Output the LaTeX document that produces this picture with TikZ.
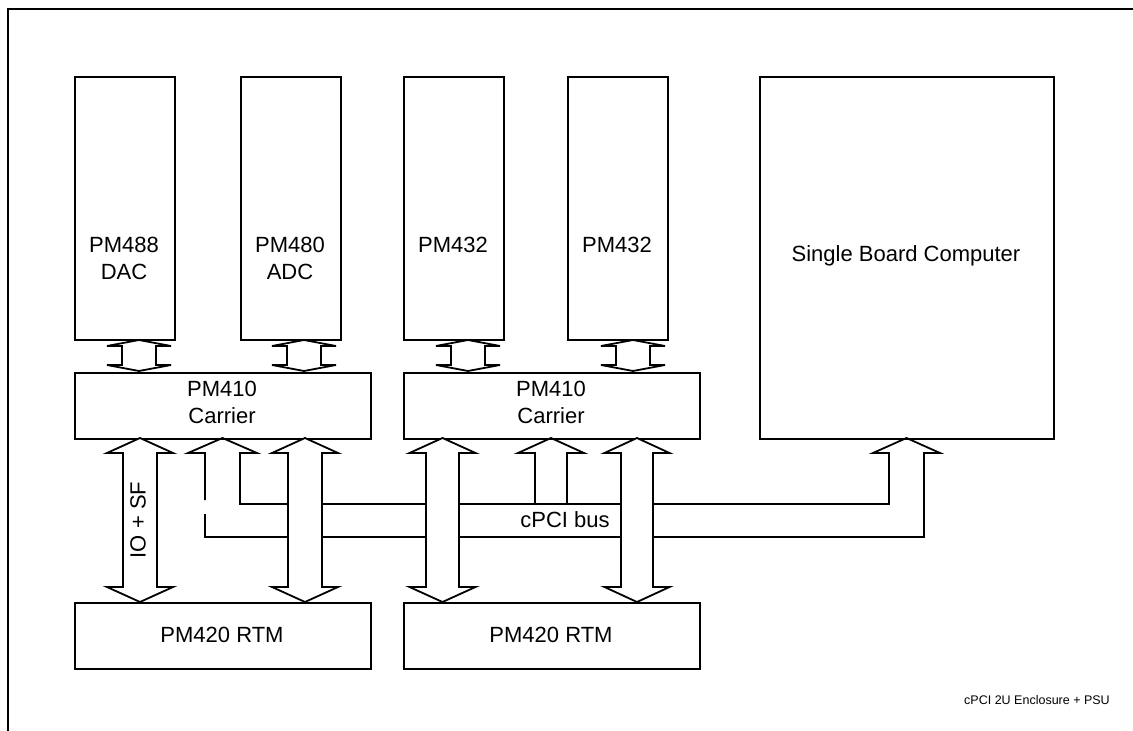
\documentclass[tikz,border=0pt]{standalone}
\usepackage{fontspec}
\setmainfont{Liberation Sans}
\newcommand{\dblarrow}[6]{% cx, ytop, ybot, half shaft, half head, head length
  \draw[conn] (#1,#2) -- ({#1+#5},{#2+#6}) -- ({#1+#4},{#2+#6}) -- ({#1+#4},{#3-#6}) -- ({#1+#5},{#3-#6}) -- (#1,#3)
    -- ({#1-#5},{#3-#6}) -- ({#1-#4},{#3-#6}) -- ({#1-#4},{#2+#6}) -- ({#1-#5},{#2+#6}) -- cycle;}
\begin{document}
\begin{tikzpicture}[x=1pt,y=-1pt,
  box/.style={draw, line width=1.8pt, inner sep=0pt, anchor=north west},
  conn/.style={draw, line width=1.8pt, fill=white, line join=miter},
  busline/.style={draw, line width=1.8pt, line join=miter},
  lbl/.style={font=\fontsize{22}{27}\selectfont, align=center, inner sep=0pt},
  small/.style={font=\fontsize{12.5}{15}\selectfont, inner sep=0pt},
  frame/.style={draw, line width=2.5pt}]
\useasboundingbox (0,0) rectangle (1133,731);
\draw[frame] (8,731) -- (8,9) -- (1133,9);

% module boards
\node[box, minimum width=100pt, minimum height=263pt] (m1) at (74,76) {};
\node[box, minimum width=100pt, minimum height=263pt] (m2) at (240,76) {};
\node[box, minimum width=100pt, minimum height=263pt] (m3) at (403,76) {};
\node[box, minimum width=100pt, minimum height=263pt] (m4) at (567,76) {};
\node[box, minimum width=294pt, minimum height=362pt] (sbc) at (759,76) {};
% carriers
\node[box, minimum width=296pt, minimum height=66pt] (c1) at (74,372) {};
\node[box, minimum width=296pt, minimum height=66pt] (c2) at (403,372) {};
% RTMs
\node[box, minimum width=296pt, minimum height=66pt] (r1) at (74,602) {};
\node[box, minimum width=296pt, minimum height=66pt] (r2) at (403,602) {};

% labels
\node[lbl] (t1) at (124,258) {PM488\\DAC};
\node[lbl] (t2) at (290,258) {PM480\\ADC};
\node[lbl] (t3) at (453,245) {PM432};
\node[lbl] (t4) at (617,245) {PM432};
\node[lbl] (t5) at (906,256) {Single Board Computer};
\node[lbl] (t6) at (222,402) {PM410\\Carrier};
\node[lbl] (t7) at (551,402) {PM410\\Carrier};
\node[lbl] (t8) at (222,635) {PM420 RTM};
\node[lbl] (t9) at (551,635) {PM420 RTM};

% cPCI bus (hollow band) with up arrows to carrier 1 and SBC
\draw[busline] (205,500) -- (205,453) -- (188,453) -- (222.5,438) -- (257,453) -- (240,453) -- (240,504)
  -- (889,504) -- (889,453) -- (873,453) -- (906.5,438) -- (940,453) -- (924,453) -- (924,537)
  -- (205,537) -- (205,514);
% up arrow to carrier 2
\draw[busline] (535,504) -- (535,453) -- (518,453) -- (551,438) -- (584,453) -- (567,453) -- (567,504);

% double arrows carrier <-> RTM
\dblarrow{140}{438}{602}{17}{33}{15}
\dblarrow{305}{438}{602}{17}{33}{15}
\dblarrow{442.5}{438}{602}{16.5}{33}{15}
\dblarrow{637}{438}{602}{16}{32.5}{15}

% small connectors module <-> carrier
\dblarrow{139}{340}{371}{17}{32}{6}
\dblarrow{304}{340}{371}{17}{32}{6}
\dblarrow{468}{340}{371}{17}{32}{6}
\dblarrow{633}{340}{371}{17}{32}{6}

\node[lbl, rotate=90] (io) at (138,520) {IO + SF};
\node[lbl] (bus) at (565,520) {cPCI bus};
\node[small] (encl) at (1037,700) {cPCI 2U Enclosure + PSU};
\end{tikzpicture}
\end{document}
